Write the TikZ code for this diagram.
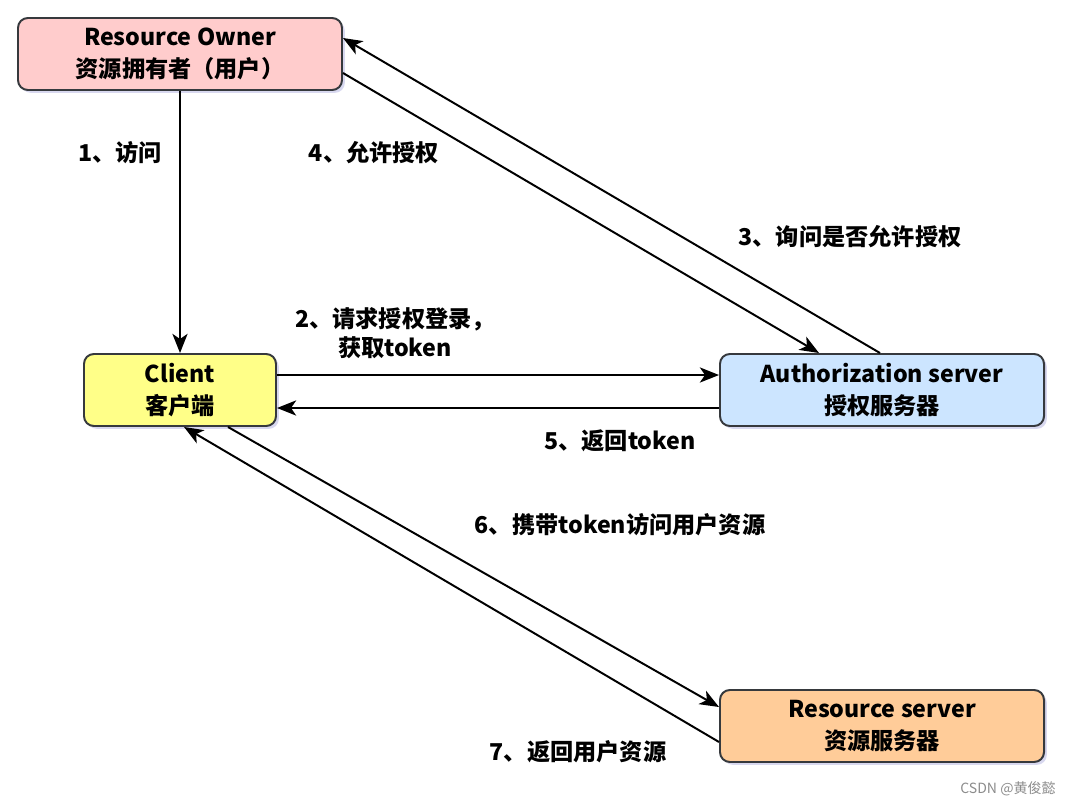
\documentclass[tikz,border=0pt]{standalone}
\usepackage{fontspec}
\setmainfont{Noto Sans CJK SC}
\usepackage{tikz}
\usetikzlibrary{arrows.meta,positioning,shadows}
\definecolor{ownerc}{RGB}{255,204,204}
\definecolor{clientc}{RGB}{255,255,136}
\definecolor{authc}{RGB}{204,229,255}
\definecolor{resc}{RGB}{255,204,153}
\definecolor{edgec}{RGB}{54,57,61}
\tikzset{
  party/.style={draw=edgec,line width=1.4pt,rounded corners=7pt,align=center,font=\fontsize{16.5}{22.5}\selectfont\bfseries,minimum height=18mm,inner sep=2pt,
    drop shadow={shadow xshift=2pt,shadow yshift=-2pt,fill=black!40!blue!30,opacity=.5}},
  arr/.style={-{Stealth[length=4.8mm,width=3.8mm,inset=1.3mm]},line width=1.4pt},
  lbl/.style={font=\fontsize{16.5}{21}\selectfont\bfseries,align=center,inner sep=1pt}
}
\begin{document}
\begin{tikzpicture}
\useasboundingbox (0,0) rectangle (26.825,-20.15);
\node[party,fill=ownerc,minimum width=81mm] (owner) at (4.5,-1.35) {Resource Owner\\资源拥有者（用户）};
\node[party,fill=clientc,minimum width=48mm] (client) at (4.5,-9.75) {Client\\客户端};
\node[party,fill=authc,minimum width=81mm] (auth) at (22.05,-9.75) {Authorization server\\授权服务器};
\node[party,fill=resc,minimum width=81mm] (res) at (22.05,-18.15) {Resource server\\资源服务器};
\draw[arr] (owner) -- (client);
\draw[arr] ([yshift=0.375cm]client.east) -- ([yshift=0.375cm]auth.west);
\draw[arr] ([xshift=-0.05cm]auth.north) -- ([yshift=0.4cm]owner.east);
\draw[arr] ([yshift=-0.475cm]owner.east) -- ([xshift=-1.575cm]auth.north);
\draw[arr] ([yshift=-0.45cm]auth.west) -- ([yshift=-0.45cm]client.east);
\draw[arr] ([xshift=1.2cm]client.south) -- ([yshift=0.475cm]res.west);
\draw[arr] ([yshift=-0.4cm]res.west) -- ([xshift=0.1cm]client.south);
\node[lbl] (l1) at (3.0,-3.825) {1、访问};
\node[lbl] (l4) at (9.35,-3.825) {4、允许授权};
\node[lbl] (l3) at (21.25,-5.925) {3、询问是否允许授权};
\node[lbl] (l2) at (9.875,-8.325) {2、请求授权登录，\\获取token};
\node[lbl] (l5) at (15.5,-11.025) {5、返回token};
\node[lbl] (l6) at (15.5,-13.125) {6、携带token访问用户资源};
\node[lbl] (l7) at (14.45,-18.8) {7、返回用户资源};
\node[font=\fontsize{10}{12}\selectfont,text=black!45] (mark) at (25.2,-19.725) {CSDN @黄俊懿};
\end{tikzpicture}
\end{document}
